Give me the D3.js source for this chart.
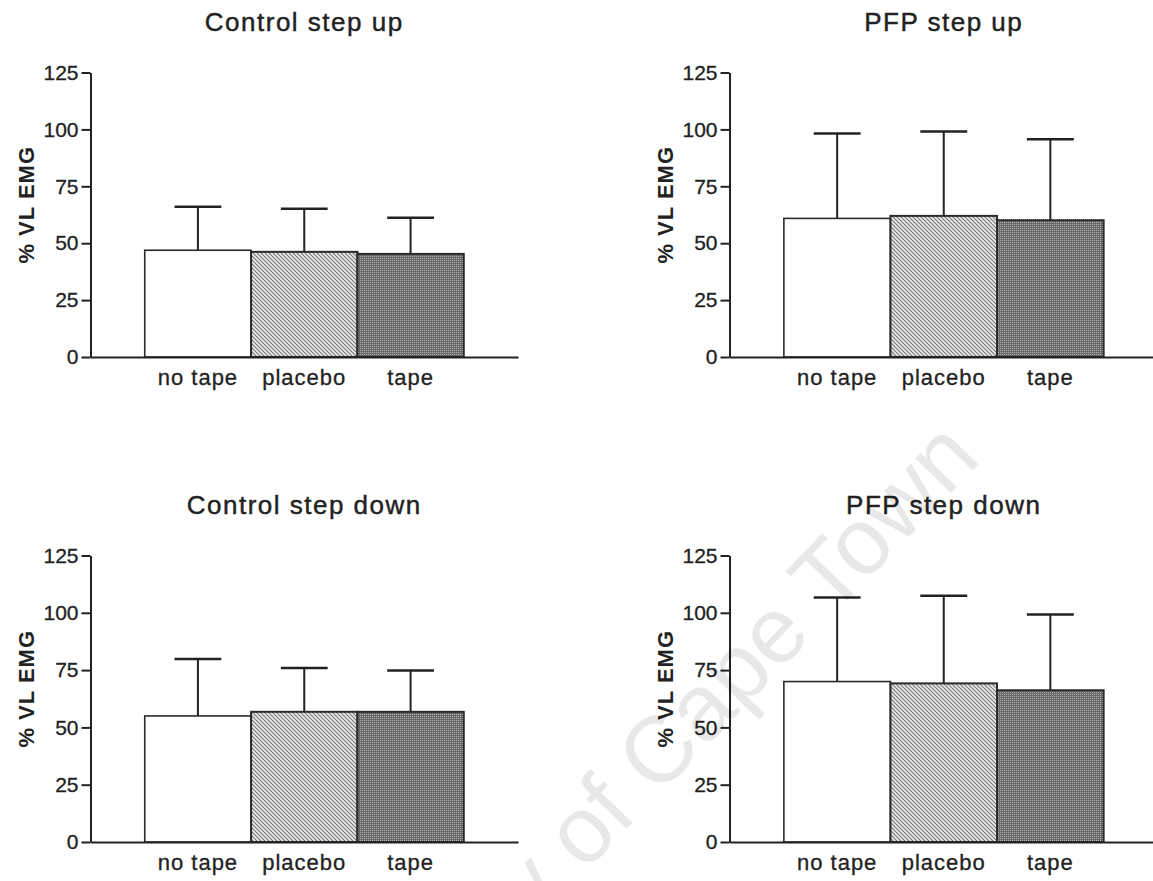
<!DOCTYPE html>
<html>
<head>
<meta charset="utf-8">
<script src="https://cdn.jsdelivr.net/npm/d3@7"></script>
<style>
	body { margin: 0; background: #fff; }
	text { font-family: "Liberation Sans", Arial, sans-serif; fill: #222; }
</style>
</head>
<body>
<div id="chart"></div>
<script>
// values (mean and upward SD bar)
const categories = ["no tape", "placebo", "tape"]
const titles = ["Control step up", "PFP step up", "Control step down", "PFP step down"]
const yTicks = [0, 25, 50, 75, 100, 125]

const controlUpMean = [46.9, 46.2, 45.3]
const controlUpSd = [19.1, 18.9, 15.9]
const pfpUpMean = [60.9, 62.0, 60.1]
const pfpUpSd = [37.3, 37.1, 35.6]
const controlDownMean = [55.0, 56.8, 56.8]
const controlDownSd = [24.8, 19.1, 18.0]
const pfpDownMean = [70.0, 69.2, 66.2]
const pfpDownSd = [36.7, 38.2, 33.1]

const width = 1153
const height = 881

const svg = d3.select('#chart')
	.append('svg')
	.attr('width', width)
	.attr('height', height)

// fills: plain, diagonal hatch, dark stipple
const defs = svg.append('defs')

const hatch = defs.append('pattern')
	.attr('id', 'hatch')
	.attr('patternUnits', 'userSpaceOnUse')
	.attr('width', 4)
	.attr('height', 4)
hatch.append('rect').attr('width', 4).attr('height', 4).attr('fill', '#ececec')
hatch.append('path')
	.attr('d', 'M-1,-1 L5,5 M-1,3 L1,5 M3,-1 L5,1')
	.attr('stroke', '#7a7a7a')
	.attr('stroke-width', 1.2)

const stipple = defs.append('pattern')
	.attr('id', 'stipple')
	.attr('patternUnits', 'userSpaceOnUse')
	.attr('width', 2)
	.attr('height', 2)
stipple.append('rect').attr('width', 2).attr('height', 2).attr('fill', '#686868')
stipple.append('rect').attr('width', 1).attr('height', 1).attr('fill', '#b4b4b4')

const fills = ['#fff', 'url(#hatch)', 'url(#stipple)']

const panels = [
	{ title: titles[0], mean: controlUpMean, sd: controlUpSd, x: [90.5, 518], y: [357, 72.5] },
	{ title: titles[1], mean: pfpUpMean, sd: pfpUpSd, x: [729.5, 1158], y: [357, 72.5] },
	{ title: titles[2], mean: controlDownMean, sd: controlDownSd, x: [90.5, 518], y: [842, 555.5] },
	{ title: titles[3], mean: pfpDownMean, sd: pfpDownSd, x: [729.5, 1158], y: [842, 555.5] },
]

// scanned type is a bit heavier than the plain font
function heavy(sel, w) {
	sel.attr('stroke', '#222').attr('stroke-width', w)
}

panels.forEach(p => {
	const rows = categories.map((c, i) => ({ cat: c, mean: p.mean[i], sd: p.sd[i], fill: fills[i] }))

	const xScale = d3.scaleBand()
		.domain(categories)
		.range(p.x)
		.paddingInner(0)
		.paddingOuter(0.51)

	const yScale = d3.scaleLinear()
		.domain([0, 125])
		.range(p.y)

	const g = svg.append('g')

	// error bars first so the bar top covers the stem
	const err = g.append('g').attr('class', 'errors')
	err.selectAll('line.stem')
		.data(rows)
		.join('line')
		.attr('class', 'stem')
		.attr('x1', d => xScale(d.cat) + xScale.bandwidth() / 2)
		.attr('x2', d => xScale(d.cat) + xScale.bandwidth() / 2)
		.attr('y1', d => yScale(d.mean))
		.attr('y2', d => yScale(d.mean + d.sd))
		.attr('stroke', '#222')
		.attr('stroke-width', 2)
	err.selectAll('line.cap')
		.data(rows)
		.join('line')
		.attr('class', 'cap')
		.attr('x1', d => xScale(d.cat) + xScale.bandwidth() * 0.28)
		.attr('x2', d => xScale(d.cat) + xScale.bandwidth() * 0.72)
		.attr('y1', d => yScale(d.mean + d.sd))
		.attr('y2', d => yScale(d.mean + d.sd))
		.attr('stroke', '#222')
		.attr('stroke-width', 2.5)

	g.append('g')
		.attr('class', 'bars')
		.selectAll('rect')
		.data(rows)
		.join('rect')
		.attr('x', d => xScale(d.cat))
		.attr('y', d => yScale(d.mean))
		.attr('width', xScale.bandwidth())
		.attr('height', d => yScale(0) - yScale(d.mean))
		.attr('fill', d => d.fill)
		.attr('stroke', '#2a2a2a')
		.attr('stroke-width', (d, i) => i === 0 ? 1.6 : 2)

	const yAxis = d3.axisLeft(yScale)
		.tickValues(yTicks)
		.tickSize(9)
		.tickSizeOuter(0)
		.tickPadding(3)

	const xAxis = d3.axisBottom(xScale)
		.tickSize(0)
		.tickSizeOuter(0)
		.tickPadding(12)

	g.append('g')
		.attr('class', 'x-axis')
		.attr('transform', `translate(0 ${yScale(0)})`)
		.call(xAxis)
		.call(a => a.selectAll('text')
			.attr('font-size', '22px')
			.attr('letter-spacing', '1px')
			.attr('fill', '#222')
			.call(heavy, 0.3))

	g.append('g')
		.attr('class', 'y-axis')
		.attr('transform', `translate(${p.x[0]} 0)`)
		.call(yAxis)
		.call(a => a.selectAll('text')
			.attr('font-size', '21px')
			.attr('fill', '#222')
			.call(heavy, 0.3))

	g.selectAll('.domain, .tick line')
		.attr('stroke', '#222')
		.attr('stroke-width', 2)

	// panel title over the middle bar
	g.append('text')
		.attr('x', xScale(categories[1]) + xScale.bandwidth() / 2)
		.attr('y', yScale(125) - 42)
		.attr('text-anchor', 'middle')
		.attr('font-size', '26px')
		.attr('letter-spacing', '1.5px')
		.call(heavy, 0.45)
		.text(p.title)

	g.append('text')
		.attr('transform', `translate(${p.x[0] - 57} ${(p.y[0] + p.y[1]) / 2 - 10}) rotate(-90)`)
		.attr('text-anchor', 'middle')
		.attr('font-size', '22px')
		.attr('font-weight', 'bold')
		.attr('letter-spacing', '1px')
		.text('% VL EMG')
})

// the repository watermark that runs across the scan
svg.append('text')
	.attr('transform', 'translate(280 1188) rotate(-46)')
	.attr('font-size', '94px')
	.style('fill', '#000')
	.style('fill-opacity', 0.09)
	.text('University of Cape Town')
</script>
</body>
</html>
